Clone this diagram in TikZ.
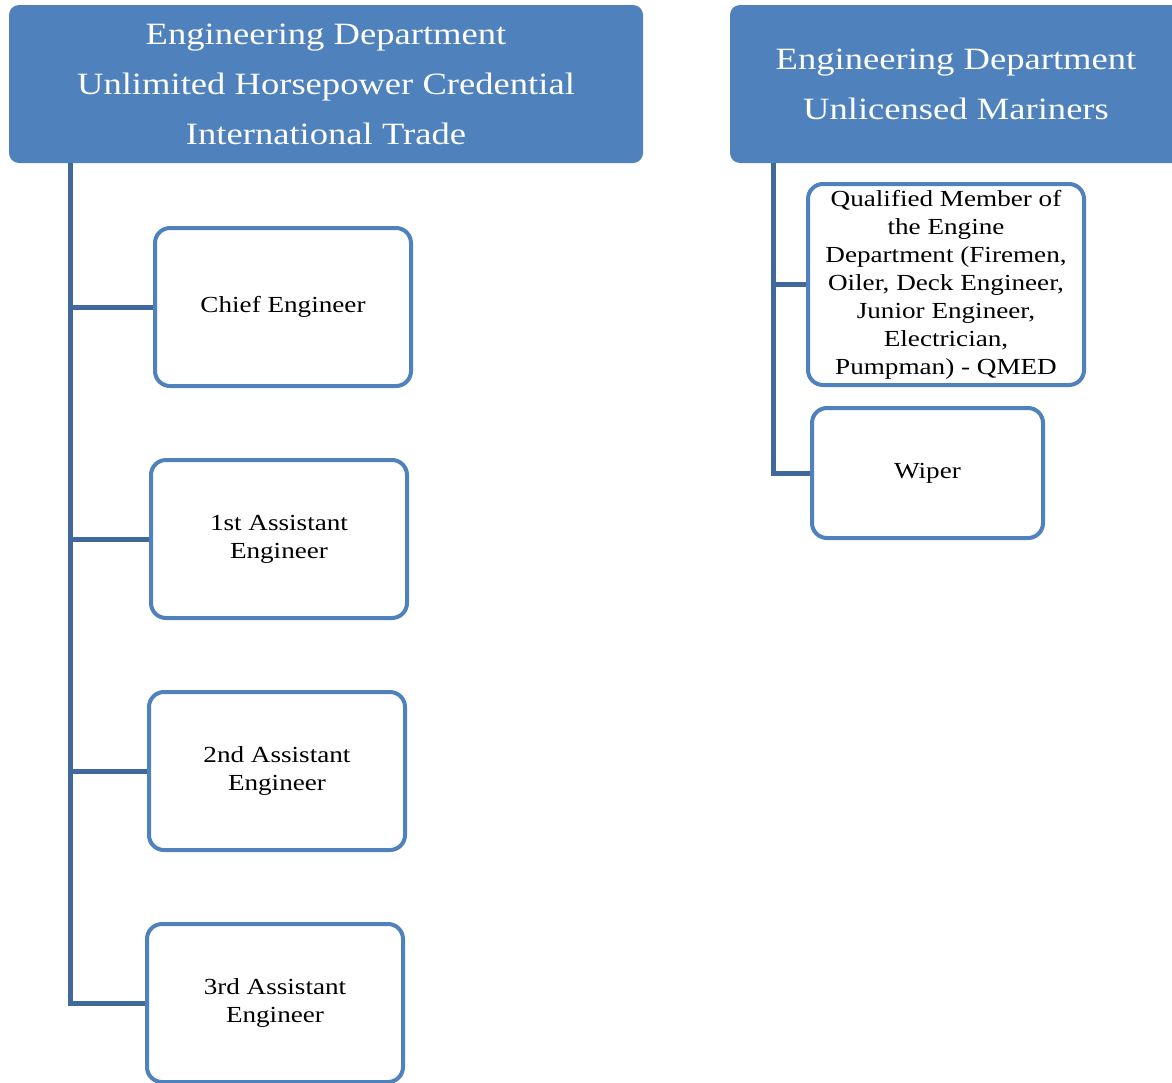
\documentclass[tikz,border=0pt]{standalone}
\usepackage{fontspec}
\setmainfont[FakeStretch=1.18]{Liberation Serif}
\usetikzlibrary{positioning}
\definecolor{hdrblue}{HTML}{4F81BD}
\definecolor{connblue}{HTML}{41689A}
\tikzset{
  header/.style={fill=hdrblue, draw=none, rounded corners=10pt, text=white,
    align=center, font=\fontsize{31}{50}\selectfont, inner sep=0pt},
  rolebox/.style={draw=hdrblue, line width=4pt, fill=white, rounded corners=15pt,
    align=center, font=\fontsize{23}{28}\selectfont, inner sep=0pt},
  conn/.style={draw=connblue, line width=5pt}
}
\begin{document}
\begin{tikzpicture}[x=1pt,y=-1pt]
\useasboundingbox (0,0) rectangle (1172,1082);
% headers
\node[header, minimum width=634pt, minimum height=158pt] (h1) at (326,84)
  {Engineering Department\\Unlimited Horsepower Credential\\International Trade};
\node[header, minimum width=452pt, minimum height=158pt] (h2) at (956,84)
  {Engineering Department\\Unlicensed Mariners};
% left boxes
\node[rolebox, minimum width=256pt, minimum height=158pt] (chief) at (283,307) {Chief Engineer};
\node[rolebox, minimum width=256pt, minimum height=158pt] (first) at (279,539) {1st Assistant\\Engineer};
\node[rolebox, minimum width=256pt, minimum height=158pt] (second) at (277,771) {2nd Assistant\\Engineer};
\node[rolebox, minimum width=256pt, minimum height=158pt] (third) at (275,1003) {3rd Assistant\\Engineer};
% right boxes
\node[rolebox, minimum width=276pt, minimum height=201pt] (qmed) at (946,284.5)
  {Qualified Member of\\the Engine\\Department (Firemen,\\Oiler, Deck Engineer,\\Junior Engineer,\\Electrician,\\Pumpman) - QMED};
\node[rolebox, minimum width=231pt, minimum height=130pt] (wiper) at (927.5,473) {Wiper};
% connectors
\coordinate (s1) at (70,163);
\coordinate (s2) at (773,163);
\draw[conn] (s1) |- (third.west);
\draw[conn] (s1 |- chief.west) -- (chief.west);
\draw[conn] (s1 |- first.west) -- (first.west);
\draw[conn] (s1 |- second.west) -- (second.west);
\draw[conn] (s2) |- (wiper.west);
\draw[conn] (s2 |- qmed.west) -- (qmed.west);
\end{tikzpicture}
\end{document}
